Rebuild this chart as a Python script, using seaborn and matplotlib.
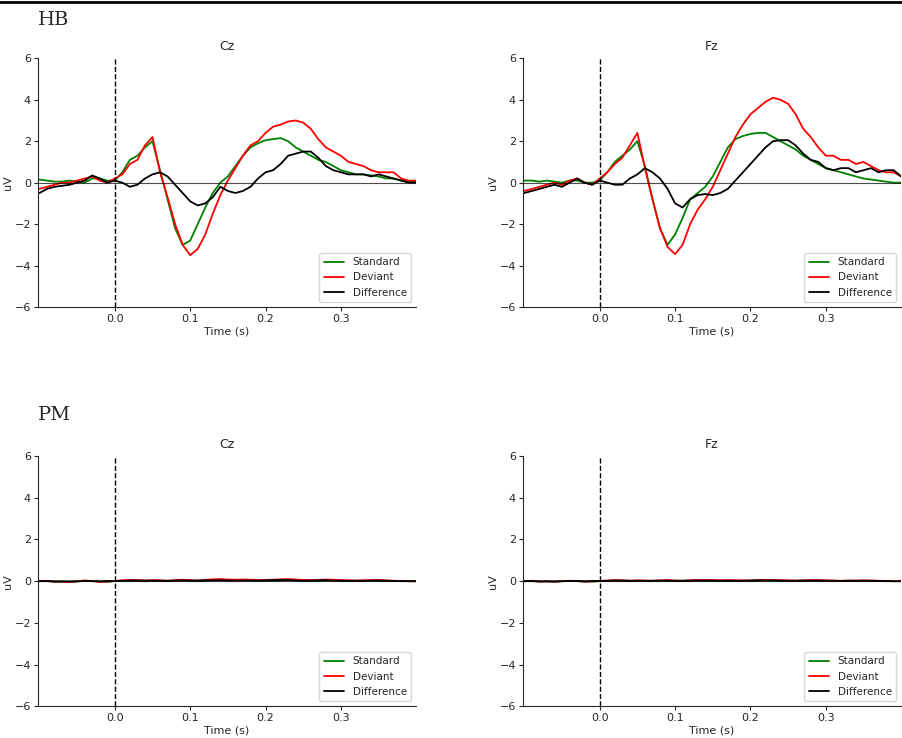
import numpy as np
import matplotlib
matplotlib.use("Agg")
import matplotlib.pyplot as plt
import seaborn as sns
import pandas as pd

sns.set_style("ticks")
plt.rcParams['font.family'] = ['DejaVu Sans']

times = [round(-0.1 + 0.01 * i, 2) for i in range(51)]

hb_cz_std = [0.15,0.1,0.05,0.05,0.1,0.05,0.0,0.2,0.2,0.1,0.1,0.5,1.1,1.3,1.7,2.0,0.6,-0.8,-2.2,-3.0,-2.8,-2.0,-1.2,-0.5,0.0,0.3,0.8,1.3,1.7,1.9,2.05,2.1,2.15,2.0,1.7,1.5,1.3,1.1,1.0,0.8,0.6,0.5,0.4,0.4,0.35,0.3,0.2,0.2,0.1,0.05,0.05]
hb_cz_dev = [-0.3,-0.2,-0.1,0.0,0.0,0.1,0.2,0.3,0.1,0.0,0.2,0.4,0.9,1.1,1.8,2.2,0.5,-0.7,-2.0,-3.0,-3.5,-3.2,-2.5,-1.5,-0.6,0.1,0.7,1.3,1.8,2.0,2.4,2.7,2.8,2.95,3.0,2.9,2.6,2.1,1.7,1.5,1.3,1.0,0.9,0.8,0.6,0.5,0.5,0.5,0.2,0.1,0.1]
hb_cz_diff = [-0.5,-0.3,-0.2,-0.15,-0.1,0.0,0.1,0.35,0.2,0.0,0.1,0.0,-0.2,-0.1,0.2,0.4,0.5,0.3,-0.1,-0.5,-0.9,-1.1,-1.0,-0.7,-0.2,-0.4,-0.5,-0.4,-0.2,0.2,0.5,0.6,0.9,1.3,1.4,1.5,1.5,1.2,0.8,0.6,0.5,0.4,0.4,0.4,0.3,0.4,0.3,0.2,0.1,0.0,0.0]

hb_fz_std = [0.1,0.1,0.05,0.1,0.05,0.0,0.1,0.1,0.0,0.0,0.1,0.5,1.0,1.3,1.6,2.0,0.8,-0.8,-2.2,-3.0,-2.5,-1.7,-0.8,-0.5,-0.2,0.3,1.0,1.7,2.1,2.25,2.35,2.4,2.4,2.2,2.0,1.8,1.6,1.3,1.1,0.9,0.7,0.6,0.5,0.4,0.3,0.2,0.15,0.1,0.05,0.0,0.0]
hb_fz_dev = [-0.4,-0.3,-0.2,-0.1,0.0,-0.1,0.1,0.2,0.0,-0.1,0.2,0.5,0.9,1.2,1.8,2.4,0.7,-0.8,-2.2,-3.1,-3.45,-3.0,-2.0,-1.3,-0.8,-0.2,0.6,1.4,2.2,2.8,3.3,3.6,3.9,4.1,4.0,3.8,3.3,2.6,2.2,1.7,1.3,1.3,1.1,1.1,0.9,1.0,0.8,0.6,0.5,0.5,0.3]
hb_fz_diff = [-0.5,-0.4,-0.3,-0.2,-0.1,-0.2,0.0,0.2,0.0,-0.1,0.1,0.0,-0.1,-0.1,0.2,0.4,0.7,0.5,0.2,-0.3,-1.0,-1.2,-0.8,-0.6,-0.55,-0.6,-0.5,-0.3,0.1,0.5,0.9,1.3,1.7,2.0,2.05,2.05,1.8,1.4,1.1,1.0,0.7,0.6,0.7,0.7,0.5,0.6,0.7,0.5,0.6,0.6,0.3]

pm_cz_std = [0.0,0.0,-0.02,0.0,-0.03,0.0,0.02,0.0,-0.02,-0.03,0.0,0.02,0.03,0.02,0.0,0.03,0.02,0.0,0.02,0.03,0.02,0.0,0.02,0.05,0.06,0.05,0.04,0.05,0.04,0.03,0.02,0.02,0.03,0.04,0.05,0.04,0.02,0.02,0.03,0.04,0.03,0.02,0.01,0.02,0.02,0.03,0.02,0.01,0.0,0.0,0.0]
pm_cz_dev = [0.0,0.01,-0.03,-0.02,-0.04,-0.01,0.03,0.01,-0.03,-0.02,0.01,0.04,0.06,0.05,0.03,0.05,0.04,0.02,0.05,0.07,0.05,0.03,0.06,0.09,0.1,0.08,0.07,0.08,0.07,0.06,0.06,0.07,0.09,0.1,0.08,0.06,0.05,0.06,0.08,0.07,0.05,0.04,0.03,0.04,0.05,0.06,0.04,0.02,0.01,0.0,0.0]
pm_cz_diff = [0.0,0.01,-0.01,-0.02,-0.01,-0.01,0.01,0.01,-0.01,0.01,0.01,0.02,0.03,0.03,0.03,0.02,0.02,0.02,0.03,0.04,0.03,0.03,0.04,0.04,0.04,0.03,0.03,0.03,0.03,0.03,0.04,0.05,0.06,0.06,0.03,0.02,0.03,0.04,0.05,0.03,0.02,0.02,0.02,0.02,0.03,0.03,0.02,0.01,0.01,0.0,0.0]

pm_fz_std = [0.0,0.0,-0.01,0.0,-0.02,0.0,0.01,0.0,-0.01,-0.02,0.0,0.01,0.02,0.01,0.0,0.02,0.02,0.0,0.01,0.02,0.01,0.0,0.01,0.03,0.03,0.02,0.02,0.03,0.02,0.02,0.01,0.01,0.02,0.02,0.03,0.02,0.01,0.01,0.02,0.02,0.02,0.01,0.01,0.01,0.01,0.02,0.01,0.01,0.0,0.0,0.0]
pm_fz_dev = [0.0,0.01,-0.02,-0.01,-0.03,0.0,0.02,0.01,-0.02,-0.01,0.01,0.03,0.05,0.04,0.02,0.04,0.03,0.02,0.04,0.05,0.03,0.02,0.04,0.06,0.06,0.05,0.04,0.05,0.04,0.04,0.04,0.05,0.06,0.06,0.05,0.04,0.03,0.04,0.05,0.05,0.04,0.03,0.02,0.03,0.03,0.04,0.03,0.02,0.01,0.0,0.0]
pm_fz_diff = [0.0,0.01,-0.01,-0.01,-0.01,0.0,0.01,0.01,-0.01,0.01,0.01,0.02,0.03,0.03,0.02,0.02,0.01,0.02,0.03,0.03,0.02,0.02,0.03,0.03,0.03,0.03,0.02,0.02,0.02,0.02,0.03,0.04,0.04,0.04,0.02,0.02,0.02,0.03,0.03,0.03,0.02,0.02,0.01,0.02,0.02,0.02,0.02,0.01,0.01,0.0,0.0]

panels = [
    ("Cz", hb_cz_std, hb_cz_dev, hb_cz_diff),
    ("Fz", hb_fz_std, hb_fz_dev, hb_fz_diff),
    ("Cz", pm_cz_std, pm_cz_dev, pm_cz_diff),
    ("Fz", pm_fz_std, pm_fz_dev, pm_fz_diff),
]
positions = [
    [0.042, 0.584, 0.419, 0.337],
    [0.579, 0.584, 0.419, 0.337],
    [0.042, 0.043, 0.419, 0.339],
    [0.579, 0.043, 0.419, 0.339],
]

fig = plt.figure(figsize=(9.03, 7.38), dpi=100)
fig.add_artist(plt.Line2D([0, 1], [0.997, 0.997], color="black", lw=2, transform=fig.transFigure))
fig.text(0.042, 0.985, "HB", fontsize=14, family="DejaVu Serif", va="top")
fig.text(0.042, 0.45, "PM", fontsize=14, family="DejaVu Serif", va="top")

for (title, s, d, df), pos in zip(panels, positions):
    ax = fig.add_axes(pos)
    data = pd.DataFrame({"t": times * 3,
                         "v": s + d + df,
                         "cond": ["Standard"] * 51 + ["Deviant"] * 51 + ["Difference"] * 51})
    sns.lineplot(data=data, x="t", y="v", hue="cond",
                 palette={"Standard": "green", "Deviant": "red", "Difference": "black"},
                 ax=ax, lw=1.3)
    ax.axhline(0, color="black", lw=0.8, alpha=0.7)
    ax.axvline(0, color="black", lw=1, ls="--")
    ax.set_xlim(-0.102, 0.4)
    ax.set_ylim(-6, 6)
    ax.set_xticks([0.0, 0.1, 0.2, 0.3])
    ax.set_yticks([-6, -4, -2, 0, 2, 4, 6])
    ax.set_yticklabels(["\u22126", "\u22124", "\u22122", "0", "2", "4", "6"])
    ax.tick_params(labelsize=8, length=3, pad=2)
    ax.set_xlabel("Time (s)", fontsize=8, labelpad=2)
    ax.set_ylabel("uV", fontsize=8, labelpad=1)
    ax.set_title(title, fontsize=9)
    sns.despine(ax=ax)
    ax.legend(loc="lower right", fontsize=7.5, title=None)

fig.savefig("out.png", dpi=100)
